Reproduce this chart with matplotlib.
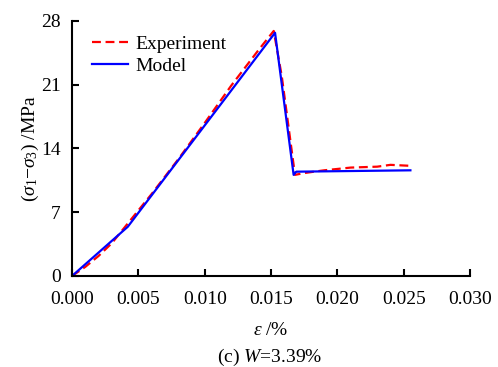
import matplotlib.pyplot as plt
import numpy as np

plt.rcParams['font.family'] = ['Liberation Serif', 'DejaVu Serif']
plt.rcParams['mathtext.fontset'] = 'custom'
plt.rcParams['mathtext.rm'] = 'Liberation Serif'
plt.rcParams['mathtext.it'] = 'Liberation Serif:italic'

# experiment curve (red dashed)
exp_strain = [0.0, 0.001, 0.002, 0.003, 0.004, 0.005, 0.006, 0.008, 0.010, 0.012,
              0.014, 0.0152, 0.0158, 0.0168, 0.0175, 0.019, 0.021, 0.023, 0.024, 0.0254]
exp_stress = [0.0, 1.0, 2.2, 3.6, 5.4, 7.2, 9.0, 12.8, 16.8, 20.9,
              24.7, 26.9, 22.0, 11.1, 11.3, 11.6, 11.9, 12.0, 12.2, 12.1]

# model curve (blue solid)
mod_strain = [0.0, 0.0042, 0.0153, 0.0167, 0.0169, 0.0255]
mod_stress = [0.0, 5.4, 26.7, 11.1, 11.45, 11.6]

fs = 14

fig = plt.figure(figsize=(4.98, 3.67), dpi=100)
ax = fig.add_axes([0.1446, 0.248, 0.7994, 0.695])

ax.plot(exp_strain, exp_stress, color='red', ls='--', dashes=(4, 2.1), lw=1.6, label='Experiment')
ax.plot(mod_strain, mod_stress, color='blue', ls='-', lw=1.6, label='Model')

ax.set_xlim(0, 0.030)
ax.set_ylim(0, 28)
ax.set_xticks(np.arange(0, 0.0301, 0.005))
ax.set_xticklabels(['0.000', '0.005', '0.010', '0.015', '0.020', '0.025', '0.030'])
ax.set_yticks([0, 7, 14, 21, 28])

for s in ['top', 'right']:
    ax.spines[s].set_visible(False)
for s in ['left', 'bottom']:
    ax.spines[s].set_linewidth(1.5)
ax.tick_params(direction='in', length=5, width=1.5, labelsize=fs)
ax.tick_params(axis='x', pad=11)
ax.tick_params(axis='y', pad=8)

ax.set_ylabel(r'($\sigma_1$$-$$\sigma_3$) /MPa', fontsize=fs, labelpad=0)
ax.set_xlabel(r'$\it{\varepsilon}$ /%', fontsize=fs, labelpad=10)
fig.text(0.542, 0.0136, r'(c) $W$=3.39%', ha='center', va='baseline', fontsize=fs)

ax.legend(loc='upper left', bbox_to_anchor=(0.02, 0.99), frameon=False, fontsize=fs,
          handlelength=1.85, handletextpad=0.4, labelspacing=0.25, borderaxespad=0.2)

fig.savefig('out.png', dpi=100)
